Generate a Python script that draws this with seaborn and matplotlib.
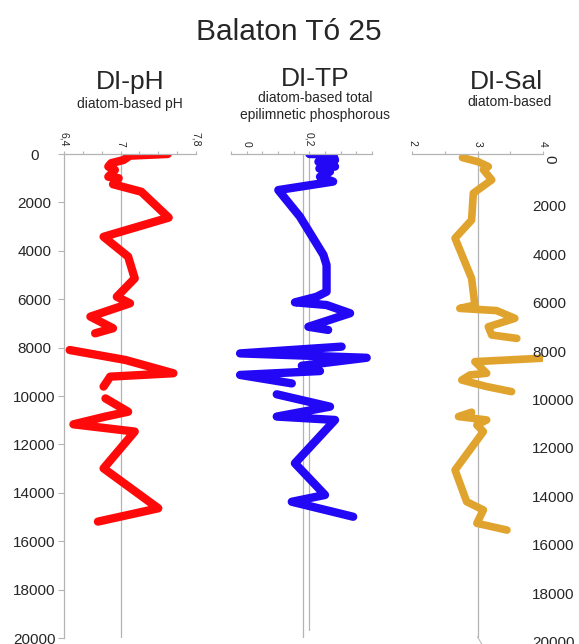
import numpy as np
import pandas as pd
import matplotlib
matplotlib.use("Agg")
import matplotlib.pyplot as plt
import matplotlib.transforms as mtransforms
import seaborn as sns

nan = np.nan

# ---- Data: diatom-inferred reconstructions against depth -------------------
ph_depth = [0, 70, 250, 380, 520, 660, 940, 1000, 1250, 1560, 2630, 3420, 4240,
            5140, 5900, 6170, 6720, 7200, 7410, nan,
            8100, 8510, 9060, 9200, 9610, nan,
            10100, 10650, 10850, 11170, 11470, 12990, 14640, 15190]
ph_value = [7.50, 7.10, 7.03, 6.90, 6.87, 6.94, 6.87, 6.98, 6.92, 7.22, 7.51, 6.82, 7.08,
            7.15, 6.96, 7.10, 6.68, 6.92, 6.73, nan,
            6.46, 7.05, 7.56, 6.89, 6.82, nan,
            6.84, 7.08, 6.84, 6.50, 7.15, 6.82, 7.40, 6.76]

tp_depth = [0, 30, 250, 320, 520, 600, 730, 940, 1140, 1490, 2590, 4170, 4590,
            5690, 5900, 6130, 6240, 6580, 7140, 7270, nan,
            7960, 8240, 8420, 8750, 8970, 9130, 9480, nan,
            9930, 10440, 10850, 10990, 12780, 14090, 14370, 14990]
tp_value = [0.200, 0.276, 0.282, 0.229, 0.282, 0.232, 0.266, 0.234, 0.276, 0.101, 0.170, 0.245, 0.255,
            0.255, 0.223, 0.154, 0.255, 0.330, 0.197, 0.260, nan,
            0.303, -0.021, 0.383, 0.176, 0.234, -0.021, 0.144, nan,
            0.096, 0.266, 0.096, 0.282, 0.154, 0.250, 0.144, 0.340]

sal_depth = [150, 320, 520, 650, 1070, 1620, 2730, 3480, 5140, 6240, 6380, 6470, 6790,
             7140, 7480, 7620, nan,
             8440, 8580, 9060, 9130, 9340, 9610, 9820, nan,
             10670, 10850, 10990, 11200, 11470, 13060, 14370, 14710, 15260, 15540]
sal_value = [2.77, 3.01, 3.165, 3.09, 3.217, 2.936, 2.91, 2.657, 2.91, 2.96, 2.73, 3.29, 3.57,
             3.165, 3.217, 3.60, nan,
             3.98, 2.96, 3.14, 2.885, 2.76, 3.14, 3.52, nan,
             2.91, 2.71, 3.14, 2.99, 3.09, 2.657, 2.835, 3.09, 2.99, 3.45]

depth_ticks = list(range(0, 20001, 2000))
ph_ticks = [6.4, 6.6, 6.8, 7.0, 7.2, 7.4, 7.6, 7.8]
ph_labels = ["6,4", "", "", "7", "", "", "", "7,8"]
tp_ticks = [-0.05, 0.0, 0.05, 0.10, 0.15, 0.20, 0.25, 0.30, 0.35, 0.40]
tp_labels = ["", "0", "", "", "", "0,2", "", "", "", ""]
sal_ticks = [2.0, 2.5, 3.0, 3.5, 4.0]
sal_labels = ["2", "", "3", "", "4"]

tp_refs = [0.18, 0.20]

# ---- Style --------------------------------------------------------------------
sns.set_style("white")
plt.rcParams["font.family"] = ["Liberation Sans", "DejaVu Sans"]

GRAY = "#b4b4b4"
RED = "#fe0a0a"
BLUE = "#2208f5"
GOLD = "#e0a42e"

W, H = 579, 644
fig = plt.figure(figsize=(W / 100, H / 100), dpi=100)


def rect(x0, x1, y0, y1):
    return [x0 / W, 1 - y1 / H, (x1 - x0) / W, (y1 - y0) / H]


def segmented(depth, value, name):
    df = pd.DataFrame({"depth": depth, name: value})
    df["seg"] = df[name].isna().cumsum()
    return df.dropna()


def style_panel(ax, xlim, ticks, labels):
    ax.set_xlim(*xlim)
    ax.set_ylim(20000, 0)
    ax.xaxis.tick_top()
    ax.set_xticks(ticks)
    ax.set_xticklabels(labels)
    ax.tick_params(axis="x", direction="out", length=2.5, width=0.8, color=GRAY,
                   labelsize=7.5, labelrotation=-90, pad=3)
    ax.set_xlabel("")
    ax.set_ylabel("")
    for s in ["right", "bottom", "left"]:
        ax.spines[s].set_visible(False)
    ax.spines["top"].set_color(GRAY)
    ax.spines["top"].set_linewidth(0.9)
    ax.set_facecolor("none")


ax1 = fig.add_axes(rect(64, 196, 154, 638))
ax2 = fig.add_axes(rect(231, 372, 154, 638))
ax3 = fig.add_axes(rect(412, 543, 154, 638))
axr = fig.add_axes(rect(412, 528, 157.5, 641.5))

# reference lines
ax1.axvline(7.0, color=GRAY, lw=0.9, zorder=0)
ax2.axvline(tp_refs[0], color=GRAY, lw=0.9, zorder=0)
ax2.axvline(tp_refs[1], ymin=0.017, color=GRAY, lw=0.9, zorder=0)
ax3.axvline(3.0, ymin=0.0025, color=GRAY, lw=0.9, zorder=0)
ax3.plot([3.0, 3.14], [19950, 20600], color=GRAY, lw=0.7, clip_on=False, zorder=0)

line_kw = dict(estimator=None, sort=False, orient="y", legend=False)
sns.lineplot(data=segmented(ph_depth, ph_value, "ph"), x="ph", y="depth", units="seg",
             ax=ax1, color=RED, lw=6, solid_capstyle="round", solid_joinstyle="round", **line_kw)
sns.lineplot(data=segmented(tp_depth, tp_value, "tp"), x="tp", y="depth", units="seg",
             ax=ax2, color=BLUE, lw=6, solid_capstyle="round", solid_joinstyle="round", **line_kw)
sns.lineplot(data=segmented(sal_depth, sal_value, "sal"), x="sal", y="depth", units="seg",
             ax=ax3, color=GOLD, lw=5.5, solid_capstyle="round", solid_joinstyle="round", **line_kw)

style_panel(ax1, (6.4, 7.8), ph_ticks, ph_labels)
style_panel(ax2, (-0.05, 0.40), tp_ticks, tp_labels)
style_panel(ax3, (2.0, 4.0), sal_ticks, sal_labels)

# left depth axis
ax1.spines["left"].set_visible(True)
ax1.spines["left"].set_color(GRAY)
ax1.spines["left"].set_linewidth(0.9)
ax1.set_yticks(depth_ticks)
ax1.set_yticklabels([str(d) for d in depth_ticks])
ax1.tick_params(axis="y", left=True, direction="out", length=4.5, width=0.8, color=GRAY,
                labelsize=11, pad=17)
for lab in ax1.get_yticklabels():
    lab.set_horizontalalignment("center")
ax2.set_yticks([])
ax3.set_yticks([])

# right depth axis
axr.set_ylim(20000, 0)
axr.set_xticks([])
for s in axr.spines.values():
    s.set_visible(False)
axr.set_facecolor("none")
axr.yaxis.tick_right()
axr.set_yticks(depth_ticks)
axr.set_yticklabels([str(d) for d in depth_ticks])
axr.tick_params(axis="y", right=False, length=0, labelsize=11, pad=3)
zero = axr.get_yticklabels()[0]
zero.set_rotation(-90)
zero.set_transform(zero.get_transform() +
                   mtransforms.ScaledTranslation(7 / 72, -2 / 72, fig.dpi_scale_trans))

# titles
def ftext(x, y, s, size, **kw):
    fig.text(x / W, 1 - y / H, s, fontsize=size, ha="center", va="baseline", **kw)


ftext(289, 40, "Balaton Tó 25", 21.5)
ftext(130, 89, "DI-pH", 19)
ftext(130, 108, "diatom-based pH", 10)
ftext(315, 86, "DI-TP", 19)
ftext(315, 102, "diatom-based total", 10)
ftext(315, 119, "epilimnetic phosphorous", 10)
ftext(506, 89, "DI-Sal", 19)
ftext(509, 106, "diatom-based", 10)

fig.savefig("out.png", dpi=100)
